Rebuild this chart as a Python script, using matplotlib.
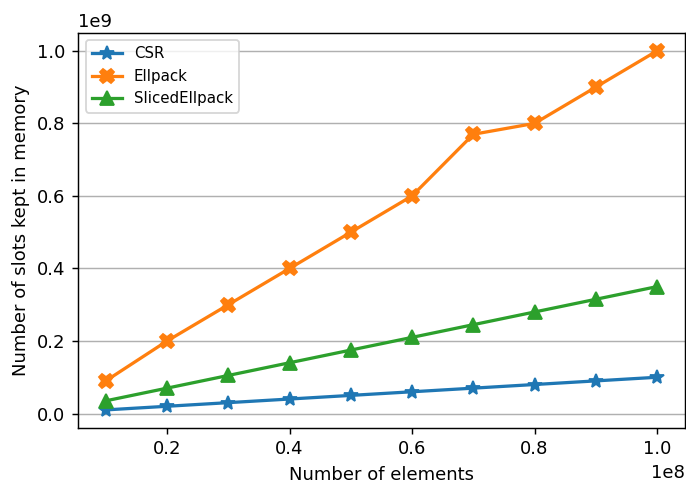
import matplotlib
matplotlib.use("Agg")
import matplotlib.pyplot as plt
import numpy as np

elements = [1e7, 2e7, 3e7, 4e7, 5e7, 6e7, 7e7, 8e7, 9e7, 1e8]
csr = [0.01e9, 0.02e9, 0.03e9, 0.04e9, 0.05e9, 0.06e9, 0.07e9, 0.08e9, 0.09e9, 0.10e9]
ellpack = [0.09e9, 0.2e9, 0.3e9, 0.4e9, 0.5e9, 0.6e9, 0.77e9, 0.8e9, 0.9e9, 1.0e9]
sliced = [0.035e9, 0.07e9, 0.105e9, 0.14e9, 0.175e9, 0.21e9, 0.245e9, 0.28e9, 0.315e9, 0.35e9]

dpi = 130
fig, ax = plt.subplots(figsize=(686 / dpi, 484 / dpi), dpi=dpi)

ax.plot(elements, csr, marker='*', lw=1.8, ms=8, label='CSR')
ax.plot(elements, ellpack, marker='X', lw=1.8, ms=8, label='Ellpack')
ax.plot(elements, sliced, marker='^', lw=1.8, ms=8, label='SlicedEllpack')

ax.set_xlabel('Number of elements')
ax.set_ylabel('Number of slots kept in memory')
ax.grid(axis='y')
ax.legend(fontsize='small')

fig.subplots_adjust(left=0.114, right=0.998, top=0.932, bottom=0.116)
fig.savefig('out.png', dpi=dpi)
